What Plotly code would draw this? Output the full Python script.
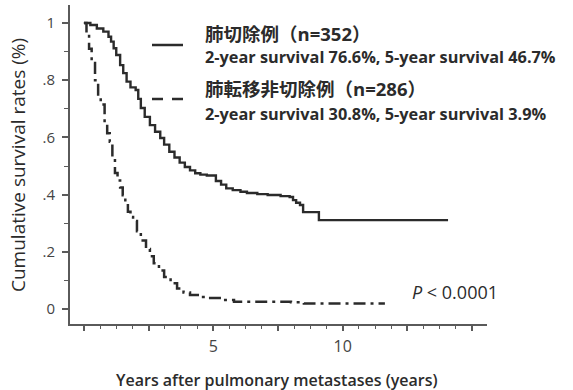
import plotly.graph_objects as go

# Kaplan-Meier estimates: pulmonary resection group (n=352)
resect_years = [0.0, 0.25, 0.5, 0.75, 0.95, 1.05, 1.15, 1.25, 1.4, 1.52, 1.65, 1.8, 2.0,
                2.1, 2.2, 2.35, 2.55, 2.75, 2.95, 3.1, 3.3, 3.5, 3.7, 3.9, 4.1, 4.3, 4.5,
                4.75, 5.1, 5.3, 5.5, 5.75, 6.05, 6.3, 6.7, 7.1, 7.6, 7.95, 8.08, 8.2, 8.35,
                8.47, 9.08, 14.07]
resect_surv = [1.000, 0.993, 0.981, 0.970, 0.952, 0.935, 0.912, 0.888, 0.853, 0.825, 0.795,
               0.775, 0.766, 0.735, 0.703, 0.672, 0.643, 0.620, 0.598, 0.575, 0.550, 0.530,
               0.512, 0.497, 0.485, 0.475, 0.470, 0.467, 0.448, 0.435, 0.422, 0.416, 0.410,
               0.406, 0.402, 0.399, 0.395, 0.392, 0.381, 0.372, 0.364, 0.339, 0.311, 0.311]

# Kaplan-Meier estimates: non-resected pulmonary metastases group (n=286)
nonresect_years = [0.0, 0.1, 0.2, 0.3, 0.43, 0.55, 0.65, 0.8, 0.9, 1.0, 1.1, 1.2, 1.3, 1.4,
                   1.5, 1.6, 1.7, 1.8, 1.9, 2.05, 2.2, 2.4, 2.55, 2.7, 2.9, 3.1, 3.35, 3.6,
                   3.85, 4.1, 4.4, 4.75, 5.3, 5.8, 8.0, 8.5, 11.63]
nonresect_surv = [1.000, 0.960, 0.910, 0.860, 0.800, 0.750, 0.715, 0.650, 0.615, 0.585, 0.530,
                  0.476, 0.450, 0.425, 0.398, 0.368, 0.340, 0.322, 0.308, 0.272, 0.240, 0.210,
                  0.185, 0.160, 0.135, 0.112, 0.090, 0.072, 0.058, 0.049, 0.042, 0.039, 0.032,
                  0.026, 0.024, 0.020, 0.020]

x_tickvals = [0, 2.5, 5, 7.5, 10, 12.5, 15]
x_ticktext = ["", "", "5", "", "10", "", ""]
y_tickvals = [0, 0.2, 0.4, 0.6, 0.8, 1.0]
y_ticktext = ["0", ".2", ".4", ".6", ".8", "1"]

group1_label = "肺切除例（n=352）"
group1_rates = "2-year survival 76.6%, 5-year survival 46.7%"
group2_label = "肺転移非切除例（n=286）"
group2_rates = "2-year survival 30.8%, 5-year survival 3.9%"
p_text = "<i>P</i> < 0.0001"

FONT = "'Open Sans', 'Noto Sans CJK JP', sans-serif"
INK = "#2b2b2b"
AXIS = "#5a5a5a"

fig = go.Figure()
fig.add_trace(go.Scatter(
    x=resect_years, y=resect_surv, mode="lines",
    line=dict(shape="hv", color=INK, width=2.4),
    showlegend=False, hoverinfo="skip"))
fig.add_trace(go.Scatter(
    x=nonresect_years, y=nonresect_surv, mode="lines",
    line=dict(shape="hv", color=INK, width=2.5, dash="12px,5px,3px,5px"),
    showlegend=False, hoverinfo="skip"))

# plot area in pixels: x 70..487, y 5..324
L, R, T, B = 70, 86, 5, 66
W, H = 573, 390
PW, PH = W - L - R, H - T - B


def px(x):
    return (x - L) / PW


def py(y):
    return (H - B - y) / PH


# legend key lines
fig.add_shape(type="line", xref="paper", yref="paper", x0=px(152), x1=px(183),
              y0=py(45), y1=py(45), line=dict(color=INK, width=2.5))
fig.add_shape(type="line", xref="paper", yref="paper", x0=px(152), x1=px(163),
              y0=py(99), y1=py(99), line=dict(color=INK, width=2.5))
fig.add_shape(type="line", xref="paper", yref="paper", x0=px(172), x1=px(183),
              y0=py(99), y1=py(99), line=dict(color=INK, width=2.5))

annotations = [
    dict(text=group1_label, x=px(203), y=py(33), size=18.5, weight=700),
    dict(text=group1_rates, x=px(203), y=py(57), size=16.3, weight=700),
    dict(text=group2_label, x=px(203), y=py(88), size=18.5, weight=700),
    dict(text=group2_rates, x=px(203), y=py(114), size=16.3, weight=700),
    dict(text=p_text, x=px(410), y=py(292), size=18, weight=400),
]
for a in annotations:
    fig.add_annotation(text=a["text"], x=a["x"], y=a["y"], xref="paper", yref="paper",
                       xanchor="left", yanchor="middle", showarrow=False,
                       font=dict(family=FONT, size=a["size"], color=INK, weight=a["weight"]))

fig.add_annotation(text="Years after pulmonary metastases (years)",
                   x=px(276.5), y=py(380), xref="paper", yref="paper",
                   xanchor="center", yanchor="middle", showarrow=False,
                   font=dict(family=FONT, size=16, color=INK, weight=600))
fig.add_annotation(text="Cumulative survival rates (%)", textangle=-90,
                   x=px(18), y=py(165), xref="paper", yref="paper",
                   xanchor="center", yanchor="middle", showarrow=False,
                   font=dict(family=FONT, size=19, color=INK))

fig.update_layout(
    width=W, height=H,
    margin=dict(l=L, r=R, t=T, b=B),
    paper_bgcolor="white", plot_bgcolor="white",
    font=dict(family=FONT, color="#444"),
    xaxis=dict(range=[-0.537, 15.575], showgrid=False, zeroline=False,
               showline=True, linecolor=AXIS, linewidth=2,
               tickmode="array", tickvals=x_tickvals, ticktext=x_ticktext,
               ticks="outside", ticklen=5, tickwidth=1.5, tickcolor=AXIS,
               ticklabelstandoff=2,
               tickfont=dict(family=FONT, size=16, color="#444"),
               minor=dict(dtick=0.625, tick0=0, ticks="outside", ticklen=3,
                          tickwidth=1.2, tickcolor=AXIS, showgrid=False)),
    yaxis=dict(range=[-0.052, 1.063], showgrid=False, zeroline=False,
               showline=True, linecolor=AXIS, linewidth=2,
               tickmode="array", tickvals=y_tickvals, ticktext=y_ticktext,
               ticks="outside", ticklen=6, tickwidth=1.5, tickcolor=AXIS,
               ticklabelstandoff=4,
               tickfont=dict(family=FONT, size=15, color="#444"),
               minor=dict(dtick=0.1, tick0=0, ticks="outside", ticklen=4,
                          tickwidth=1.2, tickcolor=AXIS, showgrid=False)),
)

fig.write_html("out.html")
